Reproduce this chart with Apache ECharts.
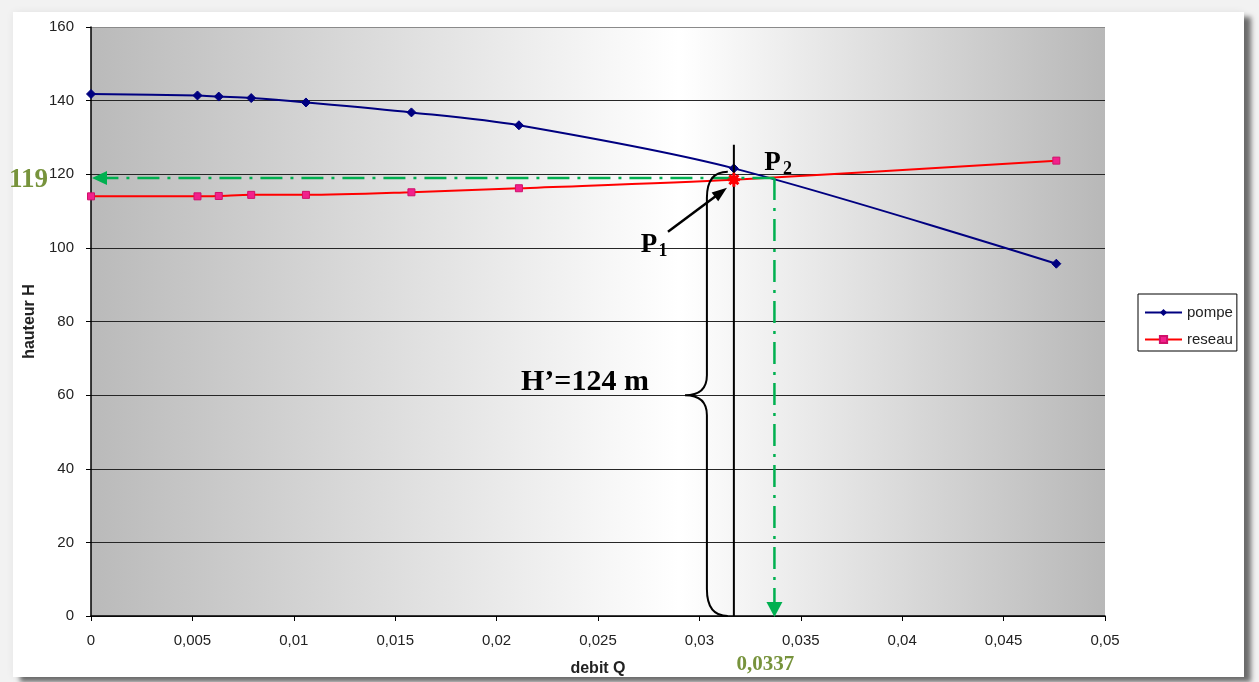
<!DOCTYPE html>
<html>
<head>
<meta charset="utf-8">
<script src="https://cdn.jsdelivr.net/npm/echarts@6/dist/echarts.min.js"></script>
<style>
  html, body { margin: 0; padding: 0; width: 1259px; height: 682px; overflow: hidden; background: #f2f2f2; }
  #panel { position: absolute; left: 13px; top: 12px; width: 1231px; height: 665px; background: #ffffff;
           box-shadow: 7px 5px 5px rgba(0,0,0,0.55), 0 0 8px rgba(0,0,0,0.06); }
  #chart { position: absolute; left: 0; top: 0; width: 1259px; height: 682px; }
</style>
</head>
<body>
<div id="panel"></div>
<div id="chart"></div>
<script>
// ---- data ----
const debitQ = [0, 0.00525, 0.0063, 0.0079, 0.0106, 0.0158, 0.0211, 0.0317, 0.0476];
const pompeH = [141.8, 141.4, 141.1, 140.7, 139.5, 136.8, 133.3, 121.6, 95.7];
const reseauH = [114.0, 114.0, 114.1, 114.4, 114.4, 115.1, 116.2, 118.5, 123.7];
const yTicks = [0, 20, 40, 60, 80, 100, 120, 140, 160];
const xTicks = [0, 0.005, 0.01, 0.015, 0.02, 0.025, 0.03, 0.035, 0.04, 0.045, 0.05];

// ---- annotation anchors (data units) ----
const P1 = [0.0317, 118.5];          // operating point 1 (red star)
const P2 = [0.0337, 119];            // operating point 2 (green lines)
const opLineTop = 128;               // top of black vertical line at P1
const braceTop = 120.7, braceMid = 60;
const braceEndQ = 0.0314, braceStemQ = 0.03037, bracePointQ = 0.02929;
const arrowTail = [0.02845, 104.4], arrowHead = [0.03136, 116.3];
const P1Label = [0.02751, 100.7], P2Label = [0.0336, 123.0];
const HLabel = [0.02751, 63.5];
const hText = 'H’=124 m', hLeftText = '119', qText = '0,0337';

const chart = echarts.init(document.getElementById('chart'), null, { renderer: 'canvas' });

function fmtQ(v) {
  if (v === 0) return '0';
  return String(+v.toFixed(3)).replace('.', ',');
}

function setAlign(style, a, v) {
  style.align = a; style.textAlign = a;
  style.verticalAlign = v; style.textVerticalAlign = v;
  return style;
}

function renderAnnot(params, api) {
  const c = p => api.coord(p);
  const green = '#00b050', olive = '#77933c';
  const dash = [22, 8, 3, 8];
  const kids = [];
  // green dash-dot lines
  const corner = c(P2);
  const yA = c([0, P2[1]]);
  const xA = c([P2[0], 0]);
  kids.push({ type: 'line', shape: { x1: corner[0], y1: corner[1], x2: yA[0] + 15, y2: yA[1] },
    style: { stroke: green, lineWidth: 2.5, lineDash: dash } });
  kids.push({ type: 'polygon', shape: { points: [[yA[0] + 1, yA[1]], [yA[0] + 16, yA[1] - 7], [yA[0] + 16, yA[1] + 7]] },
    style: { fill: green } });
  kids.push({ type: 'line', shape: { x1: corner[0], y1: corner[1], x2: xA[0], y2: xA[1] - 14 },
    style: { stroke: green, lineWidth: 2.5, lineDash: dash } });
  kids.push({ type: 'polygon', shape: { points: [[xA[0], xA[1] + 1], [xA[0] - 8, xA[1] - 14], [xA[0] + 8, xA[1] - 14]] },
    style: { fill: green } });
  // black vertical line through P1
  const vb = c([P1[0], 0]), vt = c([P1[0], opLineTop]);
  kids.push({ type: 'line', shape: { x1: vb[0], y1: vb[1], x2: vt[0], y2: vt[1] },
    style: { stroke: '#000', lineWidth: 2 } });
  // curly brace
  const T = c([braceEndQ, braceTop]);
  const B = c([braceEndQ, 0]);
  const V = c([braceStemQ, 0])[0];
  const M = c([bracePointQ, braceMid]);
  const d = `M ${T[0]} ${T[1]} Q ${V} ${T[1]} ${V} ${T[1] + 26} L ${V} ${M[1] - 20} Q ${V} ${M[1]} ${M[0]} ${M[1]} ` +
            `Q ${V} ${M[1]} ${V} ${M[1] + 20} L ${V} ${B[1] - 27} Q ${V} ${B[1]} ${B[0]} ${B[1]}`;
  kids.push({ type: 'path', shape: { pathData: d }, style: { stroke: '#000', lineWidth: 2, fill: null } });
  // arrow to P1
  const at = c(arrowTail), ah = c(arrowHead);
  const dx = ah[0] - at[0], dy = ah[1] - at[1], L = Math.hypot(dx, dy);
  const ux = dx / L, uy = dy / L, px = -uy, py = ux;
  kids.push({ type: 'line', shape: { x1: at[0], y1: at[1], x2: ah[0] - ux * 10, y2: ah[1] - uy * 10 },
    style: { stroke: '#000', lineWidth: 2.5 } });
  kids.push({ type: 'polygon', shape: { points: [[ah[0], ah[1]],
      [ah[0] - ux * 15 + px * 5.5, ah[1] - uy * 15 + py * 5.5],
      [ah[0] - ux * 15 - px * 5.5, ah[1] - uy * 15 - py * 5.5]] }, style: { fill: '#000' } });
  // red star at P1
  const s = c(P1), r = 6;
  const starPath = `M ${s[0] - r} ${s[1]} L ${s[0] + r} ${s[1]} M ${s[0]} ${s[1] - r - 1} L ${s[0]} ${s[1] + r + 1} ` +
    `M ${s[0] - r * 0.75} ${s[1] - r * 0.75} L ${s[0] + r * 0.75} ${s[1] + r * 0.75} ` +
    `M ${s[0] + r * 0.75} ${s[1] - r * 0.75} L ${s[0] - r * 0.75} ${s[1] + r * 0.75}`;
  kids.push({ type: 'path', shape: { pathData: starPath }, style: { stroke: '#ff0000', lineWidth: 3, fill: null } });
  // texts
  const serifB = sz => `bold ${sz}px "Liberation Serif", "DejaVu Serif", serif`;
  const p1 = c(P1Label), p2 = c(P2Label), hl = c(HLabel);
  kids.push({ type: 'text', style: setAlign({ text: 'P', x: p1[0], y: p1[1], font: serifB(27), fill: '#000' }, 'center', 'middle') });
  kids.push({ type: 'text', style: setAlign({ text: '1', x: p1[0] + 14, y: p1[1] + 6, font: serifB(18), fill: '#000' }, 'center', 'middle') });
  kids.push({ type: 'text', style: setAlign({ text: 'P', x: p2[0], y: p2[1], font: serifB(27), fill: '#000' }, 'center', 'middle') });
  kids.push({ type: 'text', style: setAlign({ text: '2', x: p2[0] + 15, y: p2[1] + 6, font: serifB(18), fill: '#000' }, 'center', 'middle') });
  kids.push({ type: 'text', style: setAlign({ text: hText, x: hl[0], y: hl[1], font: serifB(30), fill: '#000' }, 'right', 'middle') });
  kids.push({ type: 'text', style: setAlign({ text: hLeftText, x: yA[0] - 43, y: yA[1] + 2, font: serifB(27), fill: olive }, 'right', 'middle') });
  kids.push({ type: 'text', style: setAlign({ text: qText, x: xA[0] - 9, y: xA[1] + 49, font: serifB(21), fill: olive }, 'center', 'middle') });
  return { type: 'group', children: kids };
}

const sans = '"Liberation Sans", Arial, sans-serif';
const gridColors = yTicks.map((v, i) => i === yTicks.length - 1 ? '#8a8a8a' : '#262626');

const option = {
  animation: false,
  backgroundColor: 'transparent',
  grid: {
    left: 91, right: 154, top: 27, bottom: 65, show: true, borderWidth: 0,
    backgroundColor: new echarts.graphic.LinearGradient(0, 0, 1, 0, [
      { offset: 0, color: '#bababa' },
      { offset: 0.58, color: '#ffffff' },
      { offset: 1, color: '#b8b8b8' }
    ])
  },
  legend: {
    data: ['pompe', 'reseau'],
    orient: 'vertical', left: 1138, top: 294,
    backgroundColor: '#ffffff', borderColor: '#000', borderWidth: 1,
    padding: [11, 4, 4, 6], itemGap: 12, itemWidth: 37, itemHeight: 9,
    textStyle: { fontFamily: sans, fontSize: 15, color: '#222' }
  },
  xAxis: {
    type: 'value', min: xTicks[0], max: xTicks[xTicks.length - 1], interval: 0.005,
    name: 'debit Q', nameLocation: 'middle', nameGap: 45,
    nameTextStyle: { fontFamily: sans, fontSize: 16, fontWeight: 'bold', color: '#222' },
    axisLine: { show: true, onZero: false, lineStyle: { color: '#000', width: 1.5 } },
    axisTick: { show: true, length: 5, lineStyle: { color: '#000' } },
    axisLabel: { margin: 17, fontFamily: sans, fontSize: 15, color: '#222', formatter: fmtQ },
    splitLine: { show: false }
  },
  yAxis: {
    type: 'value', min: yTicks[0], max: yTicks[yTicks.length - 1], interval: 20,
    name: 'hauteur H', nameLocation: 'middle', nameGap: 51,
    nameTextStyle: { fontFamily: sans, fontSize: 16, fontWeight: 'bold', color: '#222' },
    axisLine: { show: true, lineStyle: { color: '#000', width: 1.5 } },
    axisTick: { show: true, length: 5, lineStyle: { color: '#000' } },
    axisLabel: { margin: 17, fontFamily: sans, fontSize: 15, color: '#222' },
    splitLine: { show: true, lineStyle: { color: gridColors, width: 1 } }
  },
  series: [
    {
      name: 'pompe', type: 'line', smooth: 0.3, z: 3,
      data: debitQ.map((q, i) => [q, pompeH[i]]),
      symbol: 'diamond', symbolSize: 9,
      lineStyle: { color: '#000080', width: 2 },
      itemStyle: { color: '#000080', borderColor: '#000080' }
    },
    {
      name: 'reseau', type: 'line', smooth: 0.3, z: 3,
      data: debitQ.map((q, i) => [q, reseauH[i]]),
      symbol: 'rect', symbolSize: 7,
      lineStyle: { color: '#ff0000', width: 2 },
      itemStyle: { color: '#f2208c', borderColor: '#d0106a', borderWidth: 1 }
    },
    {
      name: 'annot', type: 'custom', z: 5, clip: false, silent: true,
      renderItem: renderAnnot,
      data: [P2]
    }
  ]
};
chart.setOption(option);
</script>
</body>
</html>
